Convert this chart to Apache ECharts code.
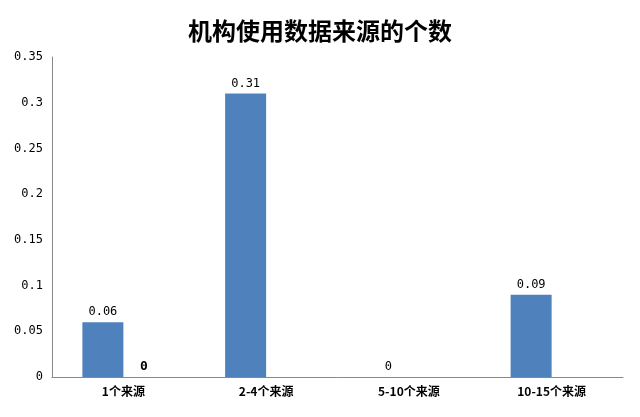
<!DOCTYPE html>
<html><head><meta charset="utf-8">
<script src="https://cdn.jsdelivr.net/npm/echarts@6/dist/echarts.min.js"></script>
<style>html,body{margin:0;padding:0;background:#fff}#c{width:640px;height:417px}</style>
</head><body><div id="c"></div>
<script>
var categories = ['1个来源', '2-4个来源', '5-10个来源', '10-15个来源'];
var seriesA = [0.06, 0.31, 0, 0.09];
var seriesB = [0, null, null, null];
var yTicks = [0, 0.05, 0.1, 0.15, 0.2, 0.25, 0.3, 0.35];

var chart = echarts.init(document.getElementById('c'));
chart.setOption({
  animation: false,
  title: {text: '机构使用数据来源的个数', left: 'center', top: 12,
    textStyle: {fontFamily: 'Noto Sans CJK SC', fontSize: 24, fontWeight: 'bold', color: '#000', lineHeight: 28}},
  grid: {left: 52, right: 17, top: 57, bottom: 40},
  xAxis: {type: 'category', data: categories,
    axisLine: {lineStyle: {color: '#888'}}, axisTick: {show: false},
    axisLabel: {color: '#000', fontWeight: 'bold', fontSize: 12, fontFamily: 'Noto Sans CJK SC', margin: 8}},
  yAxis: {type: 'value', min: 0, max: 0.35, interval: 0.05,
    axisLine: {show: true, lineStyle: {color: '#888'}}, axisTick: {show: false}, splitLine: {show: false},
    axisLabel: {color: '#000', fontSize: 12, fontFamily: 'DejaVu Sans Mono', margin: 9,
      formatter: function(v){ var s = yTicks.find(function(t){return Math.abs(t-v)<1e-9;}); return s===undefined?'':String(s);} }},
  series: [
    {type: 'bar', data: seriesA, barWidth: 41, barGap: '0%', itemStyle: {color: '#4f81bd'},
      label: {show: true, position: 'top', color: '#000', fontSize: 12, fontFamily: 'DejaVu Sans Mono', distance: 4}},
    {type: 'bar', data: seriesB, barWidth: 41, itemStyle: {color: '#c0504d'},
      label: {show: true, position: 'top', color: '#000', fontSize: 13, fontWeight: 'bold', fontFamily: 'DejaVu Sans Mono', distance: 4}}
  ]
});
</script></body></html>
